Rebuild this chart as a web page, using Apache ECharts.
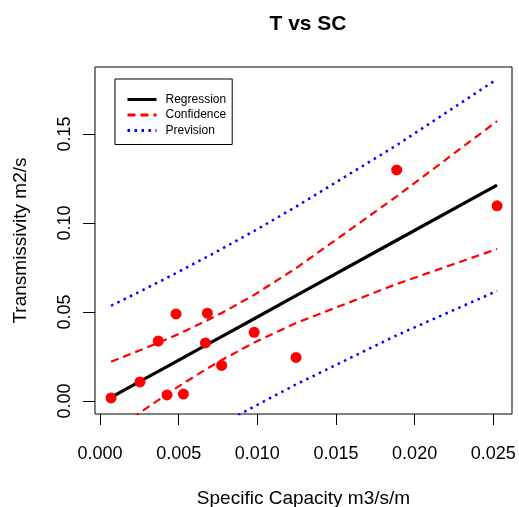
<!DOCTYPE html>
<html><head><meta charset="utf-8">
<script src="https://cdn.jsdelivr.net/npm/echarts@6/dist/echarts.min.js"></script>
<style>html,body{margin:0;padding:0;background:#fff}#c{width:519px;height:507px}</style>
</head><body><div id="c"></div>
<script>
// Observed points (Specific Capacity, Transmissivity)
const pointsX = [0.0007, 0.00254, 0.0037, 0.00483, 0.00682, 0.0067, 0.00426, 0.0053, 0.00773, 0.0098, 0.01246, 0.01886, 0.02524];
const pointsY = [0.0017, 0.0107, 0.0337, 0.0489, 0.0493, 0.0326, 0.0034, 0.0039, 0.0200, 0.0386, 0.0245, 0.1298, 0.1096];
// Band / regression curves, read at sorted x positions
const lineX      = [0.0007, 0.00254, 0.0037, 0.00426, 0.00483, 0.0053, 0.0067, 0.00682, 0.00773, 0.0098, 0.01246, 0.01886, 0.02524];
const fitY       = [0.0020, 0.0110, 0.0166, 0.0193, 0.0221, 0.0244, 0.0312, 0.0317, 0.0362, 0.0462, 0.0592, 0.0903, 0.1213];
const confLower  = [-0.0181, -0.0065, 0.0005, 0.0038, 0.0072, 0.0099, 0.0176, 0.0182, 0.0230, 0.0328, 0.0438, 0.0657, 0.0854];
const confUpper  = [0.0221, 0.0285, 0.0327, 0.0348, 0.0370, 0.0389, 0.0448, 0.0452, 0.0494, 0.0596, 0.0746, 0.1149, 0.1572];
const predLower  = [-0.0495, -0.0395, -0.0335, -0.0306, -0.0276, -0.0252, -0.0181, -0.0176, -0.0130, -0.0031, 0.0093, 0.0369, 0.0618];
const predUpper  = [0.0535, 0.0615, 0.0667, 0.0692, 0.0718, 0.0740, 0.0805, 0.0810, 0.0854, 0.0955, 0.1091, 0.1437, 0.1808];
const xTicks = [0, 0.005, 0.010, 0.015, 0.020, 0.025];
const yTicks = [0, 0.05, 0.10, 0.15];
const legendNames = ['Regression', 'Confidence', 'Prevision'];

const pair = (xs, ys) => xs.map((x, i) => [x, ys[i]]);
const FONT = 'Liberation Sans, Arial, sans-serif';

const styles = {
  Regression: {color: '#000000', width: 3.2, type: 'solid', cap: 'butt'},
  Confidence: {color: '#ff0000', width: 2.2, type: [8, 5], cap: 'butt'},
  Prevision: {color: '#0000ff', width: 2.5, type: [2.5, 4.5], cap: 'butt'}
};

const chart = echarts.init(document.getElementById('c'), null, {renderer: 'canvas'});
const lineBase = {type: 'line', symbol: 'none', showSymbol: false, clip: true, silent: true, animation: false};
chart.setOption({
  animation: false,
  backgroundColor: '#fff',
  title: {text: 'T vs SC', left: 303, top: 9, textAlign: 'center',
    textStyle: {fontFamily: FONT, fontSize: 21, fontWeight: 'bold', color: '#000'}},
  grid: {left: 95, right: 7, top: 67, bottom: 93, show: true, borderColor: '#000', borderWidth: 1,
    backgroundColor: 'transparent', containLabel: false, outerBoundsMode: 'none'},
  legend: {
    data: legendNames.map(n => ({name: n, lineStyle: Object.assign({}, styles[n], {width: 3})})),
    orient: 'vertical', left: 115, top: 79,
    itemWidth: 29, itemHeight: 14, itemGap: 3.5,
    padding: [14.5, 6, 8, 11],
    borderColor: '#000', borderWidth: 1,
    itemStyle: {opacity: 0},
    textStyle: {fontFamily: FONT, fontSize: 12, color: '#000', padding: [0, 0, 0, 4]},
    selectedMode: false
  },
  xAxis: {
    type: 'value', min: -0.00032, max: 0.02619,
    name: 'Specific Capacity m3/s/m', nameLocation: 'middle', nameGap: 75,
    nameTextStyle: {fontFamily: FONT, fontSize: 19, color: '#000'},
    axisLine: {show: false, onZero: false},
    axisTick: {show: true, inside: false, length: 11, customValues: xTicks, lineStyle: {color: '#000', width: 1}},
    axisLabel: {customValues: xTicks, margin: 31, fontFamily: FONT, fontSize: 18, color: '#000',
      formatter: v => v.toFixed(3)},
    splitLine: {show: false}
  },
  yAxis: {
    type: 'value', min: -0.0073, max: 0.1876,
    name: 'Transmissivity m2/s', nameLocation: 'middle', nameGap: 65, nameRotate: 90,
    nameTextStyle: {fontFamily: FONT, fontSize: 19, color: '#000'},
    axisLine: {show: false, onZero: false},
    axisTick: {show: true, inside: false, length: 12, customValues: yTicks, lineStyle: {color: '#000', width: 1}},
    axisLabel: {customValues: yTicks, rotate: 90, margin: 21, fontFamily: FONT, fontSize: 18, color: '#000',
      formatter: v => v.toFixed(2)},
    splitLine: {show: false}
  },
  series: [
    Object.assign({}, lineBase, {name: 'Prevision', data: pair(lineX, predUpper), z: 2, lineStyle: styles.Prevision}),
    Object.assign({}, lineBase, {name: 'Prevision', data: pair(lineX, predLower), z: 2, lineStyle: styles.Prevision}),
    Object.assign({}, lineBase, {name: 'Confidence', data: pair(lineX, confUpper), z: 3, lineStyle: styles.Confidence}),
    Object.assign({}, lineBase, {name: 'Confidence', data: pair(lineX, confLower), z: 3, lineStyle: styles.Confidence}),
    Object.assign({}, lineBase, {name: 'Regression', data: pair(lineX, fitY), z: 4, lineStyle: styles.Regression}),
    {type: 'scatter', name: 'Points', data: pair(pointsX, pointsY), symbol: 'circle', symbolSize: 11,
      itemStyle: {color: '#ff0000', opacity: 1}, z: 5, silent: true, animation: false}
  ]
});
</script>
</body></html>
